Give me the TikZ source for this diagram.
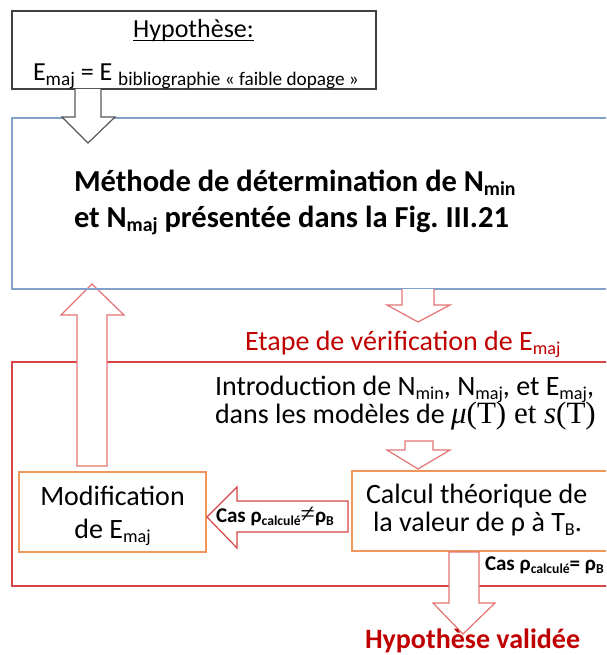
\documentclass[tikz,border=0pt]{standalone}
\usepackage{fontspec}
\setmainfont{Carlito}
\newfontfamily\serif{Liberation Serif}
\newcommand\fs[1]{\fontsize{#1}{#1}\selectfont}
\newcommand\sbs[1]{\raisebox{-0.15em}{\scalebox{0.65}{#1}}}
\newcommand\sbsl[1]{\raisebox{-0.17em}{\scalebox{0.74}{#1}}}
\definecolor{hypgray}{RGB}{64,64,64}
\definecolor{arrgray}{RGB}{89,89,89}
\definecolor{blueline}{RGB}{130,160,200}
\definecolor{boxred}{RGB}{215,70,70}
\definecolor{arrred}{RGB}{228,115,115}
\definecolor{orangeline}{RGB}{240,150,90}
\definecolor{textred}{RGB}{192,0,0}
\tikzset{
  txt/.style={inner sep=0pt, outer sep=0pt},
  boxframe/.style={draw, line width=1.2pt, inner sep=0pt, outer sep=0pt},
  blockarrow/.style={fill=white, line width=1.2pt, line join=miter},
}
\frenchspacing
\begin{document}
\begin{tikzpicture}[x=1pt,y=-1pt]
\useasboundingbox (0,0) rectangle (606,655);
\clip (0,0) rectangle (606,655);

% frames
\node[boxframe, draw=hypgray, minimum width=364pt, minimum height=78pt, anchor=north west] (hyp) at (12,11) {};
\node[boxframe, draw=boxred, minimum width=620pt, minimum height=224pt, anchor=north west] (verif) at (12,362) {};
% red up arrow (covers the red frame)
\draw[blockarrow, draw=arrred] (77,466) -- (77,315) -- (61,315) -- (92,284) -- (124,315) -- (107,315) -- (107,466) -- cycle;
\node[boxframe, draw=blueline, minimum width=620pt, minimum height=171pt, anchor=north west] (meth) at (12,118) {};
\node[boxframe, draw=orangeline, minimum width=187pt, minimum height=80pt, anchor=north west] (modif) at (19,472) {};
\node[boxframe, draw=orangeline, minimum width=300pt, minimum height=80pt, anchor=north west] (calc) at (352,471) {};

% gray arrow
\draw[blockarrow, draw=arrgray] (75,89) -- (75,117) -- (62,117) -- (88,143) -- (115,117) -- (101,117) -- (101,89);
% blue -> etape arrow
\draw[blockarrow, draw=arrred] (402,289) -- (402,305) -- (387,305) -- (418,322) -- (450,305) -- (434,305) -- (434,289);
% inner arrow
\draw[blockarrow, draw=arrred] (405,441) -- (405,450) -- (387,450) -- (418,469) -- (450,450) -- (433,450) -- (433,441) -- cycle;
% left arrow
\draw[blockarrow, draw=boxred] (207,517) -- (237,487) -- (237,501) -- (348,501) -- (348,532) -- (237,532) -- (237,548) -- cycle;
% down arrow to validated
\draw[blockarrow, draw=arrred] (449,552) -- (449,603) -- (433,603) -- (463,634) -- (495,603) -- (479,603) -- (479,552) -- cycle;

% texts
\node[txt, anchor=base, font=\fs{26}] (hyptitle) at (193.5,38) {Hypothèse:};
\draw[line width=1pt] ([yshift=-3pt]hyptitle.base west) -- ([yshift=-3pt]hyptitle.base east);
\node[txt, anchor=base west, font=\fs{26}] (hypeq) at (33,81) {E\sbsl{maj} = E \sbsl{bibliographie « faible dopage »}};

\node[txt, anchor=base west, font=\fs{30.5}\bfseries] (meth1) at (74,191) {Méthode de détermination de N\sbs{min}};
\node[txt, anchor=base west, font=\fs{30.5}\bfseries] (meth2) at (74,227) {et N\sbs{maj} présentée dans la Fig. III.21};

\node[txt, anchor=base west, font=\fs{28}, text=textred] (etape) at (245,350) {Etape de vérification de E\sbs{maj}};

\node[txt, anchor=base west, font=\fs{28}] (intro1) at (215,395) {Introduction de N\sbs{min}, N\sbs{maj}, et E\sbs{maj},};
\node[txt, anchor=base west, font=\fs{28}] (intro2) at (215,423) {dans les modèles de {\serif\fs{31}\textit{μ}(T) et \textit{s}(T)}};

\node[txt, anchor=base, font=\fs{28}] (modif1) at (112.5,505) {Modification};
\node[txt, anchor=base, font=\fs{28}] (modif2) at (112.5,538) {de E\sbs{maj}};

\node[txt, anchor=base west, font=\fs{28}] (calc1) at (366,503) {Calcul théorique de};
\node[txt, anchor=base west, font=\fs{28}] (calc2) at (373,531) {la valeur de ρ à T\sbs{B}.};

\node[txt, anchor=base west, font=\fs{21}\bfseries] (casneq) at (216,522) {Cas ρ\sbs{calculé}{\serif\mdseries\fs{26}≠}ρ\sbs{B}};
\node[txt, anchor=base west, font=\fs{21}\bfseries] (caseq) at (485,570) {Cas ρ\sbs{calculé}= ρ\sbs{B}};

\node[txt, anchor=base west, font=\fs{28}\bfseries, text=textred] (valid) at (365,648) {Hypothèse validée};
\end{tikzpicture}
\end{document}
